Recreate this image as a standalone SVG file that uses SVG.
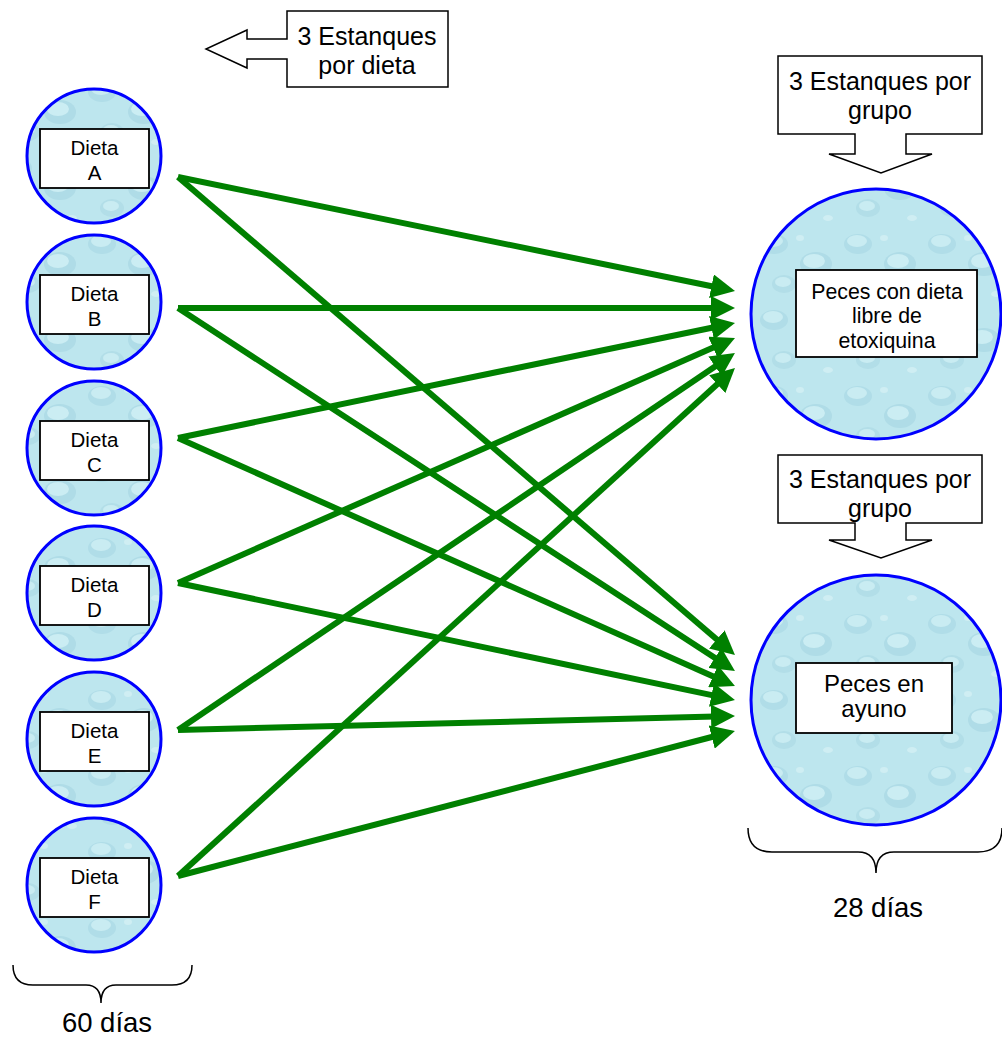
<svg xmlns="http://www.w3.org/2000/svg" width="1002" height="1038" viewBox="0 0 1002 1038">
<style>
.pond{stroke:#0000ff;stroke-width:3;}
.box{fill:#ffffff;stroke:#000000;stroke-width:1.8;}
.callout{fill:#ffffff;stroke:#000000;stroke-width:1.5;}
.brace{fill:none;stroke:#000000;stroke-width:1.5;}
.t{font-family:"Liberation Sans",Arial,sans-serif;fill:#000000;text-anchor:middle;}
.arr{stroke:#008000;stroke-width:6;fill:none;marker-end:url(#ah);}
</style>
<defs>
<marker id="ah" markerUnits="userSpaceOnUse" markerWidth="24" markerHeight="24" viewBox="0 0 24 24" refX="4" refY="12" orient="auto">
<path d="M0,0 L24,12 L0,24 Z" fill="#008000"/>
</marker>
<pattern id="water" patternUnits="userSpaceOnUse" width="84" height="76">
<rect width="84" height="76" fill="#bde6ee"/>
<ellipse cx="18" cy="16" rx="14" ry="10" fill="#b0dde8"/>
<ellipse cx="17" cy="13" rx="10" ry="6" fill="#c9ecf2"/>
<ellipse cx="60" cy="36" rx="16" ry="12" fill="#afdce7"/>
<ellipse cx="58" cy="33" rx="11" ry="7" fill="#cbedf3"/>
<ellipse cx="28" cy="56" rx="12" ry="9" fill="#b2dee8"/>
<ellipse cx="27" cy="54" rx="8" ry="5" fill="#c9ecf2"/>
<ellipse cx="72" cy="66" rx="5" ry="3" fill="#cfeef3"/>
<ellipse cx="44" cy="10" rx="4" ry="3" fill="#cfeef3"/>
</pattern>
</defs>

<g id="callout-dieta">
<polygon class="callout" points="287,11 448,11 448,87 287,87 287,59 247,59 247,68 206,49 247,30 247,39 287,39"/>
<text class="t" font-size="25" x="367" y="45">3 Estanques</text>
<text class="t" font-size="25" x="367" y="74">por dieta</text>
</g>

<g id="callout-grupo-1">
<polygon class="callout" points="778,56 982,56 982,134 906,134 906,154 932,154 881,173 829,154 855,154 855,134 778,134"/>
<text class="t" font-size="25" x="880" y="90">3 Estanques por</text>
<text class="t" font-size="25" x="880" y="119">grupo</text>
</g>

<g id="callout-grupo-2">
<polygon class="callout" points="778,455 982,455 982,523 906,523 906,540 932,540 881,558 829,540 855,540 855,523 778,523"/>
<text class="t" font-size="25" x="880" y="488">3 Estanques por</text>
<text class="t" font-size="25" x="880" y="517">grupo</text>
</g>

<g id="dieta-a">
<circle class="pond" cx="94" cy="156" r="67" fill="url(#water)"/>
<rect class="box" x="40" y="129" width="109" height="59"/>
<text class="t" font-size="20.5" x="94.5" y="155">Dieta</text>
<text class="t" font-size="20.5" x="94.5" y="180">A</text>
</g>
<g id="dieta-b">
<circle class="pond" cx="94" cy="302" r="67" fill="url(#water)"/>
<rect class="box" x="40" y="275" width="109" height="59"/>
<text class="t" font-size="20.5" x="94.5" y="301">Dieta</text>
<text class="t" font-size="20.5" x="94.5" y="326">B</text>
</g>
<g id="dieta-c">
<circle class="pond" cx="94" cy="448" r="67" fill="url(#water)"/>
<rect class="box" x="40" y="421" width="109" height="59"/>
<text class="t" font-size="20.5" x="94.5" y="447">Dieta</text>
<text class="t" font-size="20.5" x="94.5" y="472">C</text>
</g>
<g id="dieta-d">
<circle class="pond" cx="94" cy="593" r="67" fill="url(#water)"/>
<rect class="box" x="40" y="566" width="109" height="59"/>
<text class="t" font-size="20.5" x="94.5" y="592">Dieta</text>
<text class="t" font-size="20.5" x="94.5" y="617">D</text>
</g>
<g id="dieta-e">
<circle class="pond" cx="94" cy="739" r="67" fill="url(#water)"/>
<rect class="box" x="40" y="712" width="109" height="59"/>
<text class="t" font-size="20.5" x="94.5" y="738">Dieta</text>
<text class="t" font-size="20.5" x="94.5" y="763">E</text>
</g>
<g id="dieta-f">
<circle class="pond" cx="94" cy="885" r="67" fill="url(#water)"/>
<rect class="box" x="40" y="858" width="109" height="59"/>
<text class="t" font-size="20.5" x="94.5" y="884">Dieta</text>
<text class="t" font-size="20.5" x="94.5" y="909">F</text>
</g>

<g id="peces-dieta">
<circle class="pond" cx="876" cy="314" r="125" fill="url(#water)"/>
<rect class="box" x="796" y="270" width="181" height="87"/>
<text class="t" font-size="21.3" x="887" y="299">Peces con dieta</text>
<text class="t" font-size="21.3" x="887" y="323">libre de</text>
<text class="t" font-size="21.3" x="887" y="348">etoxiquina</text>
</g>

<g id="peces-ayuno">
<circle class="pond" cx="876" cy="700" r="125" fill="url(#water)"/>
<rect class="box" x="796" y="663" width="156" height="70"/>
<text class="t" font-size="24" x="874" y="692">Peces en</text>
<text class="t" font-size="24" x="874" y="717">ayuno</text>
</g>

<g id="brace-60">
<path class="brace" d="M13,965 Q13,985 33,985 L86,985 Q101,985 101,1003 Q101,985 116,985 L172,985 Q192,985 192,965"/>
<text class="t" font-size="27.5" x="107" y="1032">60 días</text>
</g>

<g id="brace-28">
<path class="brace" d="M748,828 Q748,852 772,852 L858,852 Q876,852 876,873 Q876,852 894,852 L978,852 Q1002,852 1002,828"/>
<text class="t" font-size="27.5" x="878" y="917">28 días</text>
</g>

<g id="connectors">
<line class="arr" x1="178" y1="177" x2="715.4" y2="287"/>
<line class="arr" x1="178" y1="308" x2="715" y2="308"/>
<line class="arr" x1="178" y1="438" x2="715.4" y2="327"/>
<line class="arr" x1="178" y1="583" x2="716.7" y2="346.1"/>
<line class="arr" x1="178" y1="730" x2="718.4" y2="364.2"/>
<line class="arr" x1="178" y1="876" x2="720.2" y2="381.5"/>
<line class="arr" x1="178" y1="177" x2="719.8" y2="642"/>
<line class="arr" x1="178" y1="308" x2="718.2" y2="660.1"/>
<line class="arr" x1="178" y1="438" x2="716.7" y2="677.9"/>
<line class="arr" x1="178" y1="583" x2="715.4" y2="695.9"/>
<line class="arr" x1="178" y1="730" x2="715" y2="716.5"/>
<line class="arr" x1="178" y1="876" x2="715.6" y2="736"/>
</g>
</svg>
